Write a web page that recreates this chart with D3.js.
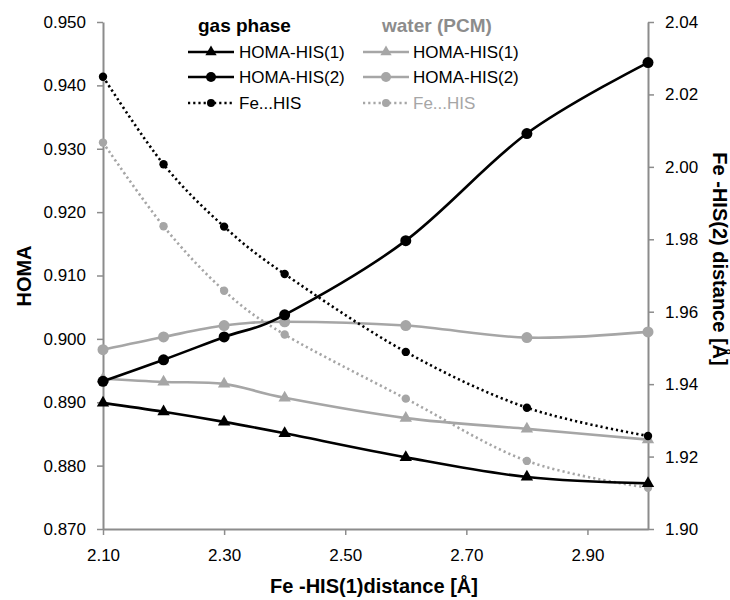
<!DOCTYPE html>
<html><head><meta charset="utf-8">
<script src="https://cdn.jsdelivr.net/npm/d3@7"></script>
<style>body{margin:0;background:#fff}svg{font-family:"Liberation Sans",Arial,sans-serif}</style>
</head><body><svg id="c" width="730" height="600"></svg>
<script>
const distances = [2.1, 2.2, 2.3, 2.4, 2.6, 2.8, 3.0];
const xTicks = [2.1, 2.3, 2.5, 2.7, 2.9];
const leftTicks = [0.870, 0.880, 0.890, 0.900, 0.910, 0.920, 0.930, 0.940, 0.950];
const rightTicks = [1.90, 1.92, 1.94, 1.96, 1.98, 2.00, 2.02, 2.04];
const gasHoma1 = [0.8899, 0.8885, 0.8869, 0.8851, 0.8813, 0.8782, 0.8772];
const gasHoma2 = [0.8933, 0.8967, 0.9003, 0.9038, 0.9155, 0.9324, 0.9436];
const gasFeHis = [2.0249, 2.0007, 1.9835, 1.9704, 1.9489, 1.9335, 1.9257];
const watHoma1 = [0.8937, 0.8932, 0.8929, 0.8907, 0.8875, 0.8858, 0.8841];
const watHoma2 = [0.8983, 0.9003, 0.9021, 0.9027, 0.9021, 0.9002, 0.9011];
const watFeHis = [2.0067, 1.9836, 1.9658, 1.9537, 1.9360, 1.9188, 1.9114];
const legendGroups = ["gas phase", "water (PCM)"];
const legendLabels = ["HOMA-HIS(1)", "HOMA-HIS(2)", "Fe...HIS"];

const svg = d3.select("#c");
const L = 103, R = 648, T = 22, B = 529;
const x = d3.scaleLinear().domain([2.1, 3.0]).range([L, R]);
const yL = d3.scaleLinear().domain([0.870, 0.950]).range([B, T]);
const yR = d3.scaleLinear().domain([1.90, 2.04]).range([B, T]);
const axisCol = "#8c8c8c", black = "#000", grey = "#a6a6a6";

function styleAxis(g){
  g.selectAll(".domain").attr("stroke", axisCol).attr("stroke-width", 2);
  g.selectAll(".tick line").attr("stroke", axisCol).attr("stroke-width", 1.5);
  g.selectAll(".tick text").attr("fill", "#000").style("font-size", "17px").style("font-family", '"Liberation Sans",Arial,sans-serif');
}
svg.append("g").attr("transform", `translate(${L},0)`)
  .call(d3.axisLeft(yL).tickValues(leftTicks).tickFormat(d3.format(".3f")).tickSize(6).tickPadding(11).tickSizeOuter(0))
  .call(styleAxis);
svg.append("g").attr("transform", `translate(${R},0)`)
  .call(d3.axisRight(yR).tickValues(rightTicks).tickFormat(d3.format(".2f")).tickSize(6).tickPadding(11).tickSizeOuter(0))
  .call(styleAxis);
svg.append("g").attr("transform", `translate(0,${B})`)
  .call(d3.axisBottom(x).tickValues(xTicks).tickFormat(d3.format(".2f")).tickSize(6).tickPadding(14).tickSizeOuter(0))
  .call(styleAxis);

// titles
svg.append("text").attr("transform", `translate(31,276) rotate(-90)`).attr("text-anchor","middle")
  .style("font-size","20px").style("font-weight","bold").text("HOMA");
svg.append("text").attr("transform", `translate(713,259) rotate(90)`).attr("text-anchor","middle")
  .style("font-size","20px").style("font-weight","bold").text("Fe -HIS(2) distance [Å]");
svg.append("text").attr("x", 374).attr("y", 593).attr("text-anchor","middle")
  .style("font-size","20px").style("font-weight","bold").text("Fe -HIS(1)distance [Å]");

const series = [
  {v: watFeHis, y: yR, col: grey, dash: true, marker: "circle", r: 4.2},
  {v: watHoma1, y: yL, col: grey, dash: false, marker: "triangle", r: 5.5},
  {v: watHoma2, y: yL, col: grey, dash: false, marker: "circle", r: 5.5},
  {v: gasFeHis, y: yR, col: black, dash: true, marker: "circle", r: 4.2},
  {v: gasHoma1, y: yL, col: black, dash: false, marker: "triangle", r: 5.5},
  {v: gasHoma2, y: yL, col: black, dash: false, marker: "circle", r: 5.5},
];
const sym = (m, r) => m === "triangle" ? d3.symbol(d3.symbolTriangle, r*r*2.2)() : null;

series.forEach(s => {
  const line = d3.line().x((d,i)=>x(distances[i])).y(d=>s.y(d)).curve(d3.curveCatmullRom.alpha(0));
  svg.append("path").attr("d", line(s.v)).attr("fill","none").attr("stroke", s.col)
    .attr("stroke-width", s.dash ? 2.6 : 2.6).attr("stroke-dasharray", s.dash ? "2.2,3" : null);
  const g = svg.append("g");
  s.v.forEach((d,i) => {
    if (s.marker === "circle") {
      g.append("circle").attr("cx", x(distances[i])).attr("cy", s.y(d)).attr("r", s.r).attr("fill", s.col);
    } else {
      g.append("path").attr("d", sym("triangle", s.r)).attr("transform", `translate(${x(distances[i])},${s.y(d)})`).attr("fill", s.col);
    }
  });
});

// legend
const legX = [188, 363], txtX = [239, 413], rowsY = [52, 77, 103];
const groupCols = [black, grey];
const markers = ["triangle", "circle", "circle"];
legendGroups.forEach((gname, gi) => {
  svg.append("text").attr("x", gi === 0 ? 198 : 382).attr("y", 32)
    .style("font-size","19px").style("font-weight","bold").attr("fill", gi === 0 ? black : "#8c8c8c").text(gname);
  legendLabels.forEach((lab, li) => {
    const col = groupCols[gi], y0 = rowsY[li], dash = li === 2;
    svg.append("line").attr("x1", legX[gi]).attr("x2", legX[gi] + 46).attr("y1", y0).attr("y2", y0)
      .attr("stroke", col).attr("stroke-width", 2.6).attr("stroke-dasharray", dash ? "2.2,3" : null);
    const cx = legX[gi] + 23;
    if (markers[li] === "triangle") {
      svg.append("path").attr("d", sym("triangle", 5)).attr("transform", `translate(${cx},${y0})`).attr("fill", col);
    } else {
      svg.append("circle").attr("cx", cx).attr("cy", y0).attr("r", dash ? 4 : 5).attr("fill", col);
    }
    svg.append("text").attr("x", txtX[gi]).attr("y", y0 + 6).style("font-size","17px")
      .attr("fill", (gi === 1 && dash) ? grey : black).text(lab);
  });
});
</script></body></html>
